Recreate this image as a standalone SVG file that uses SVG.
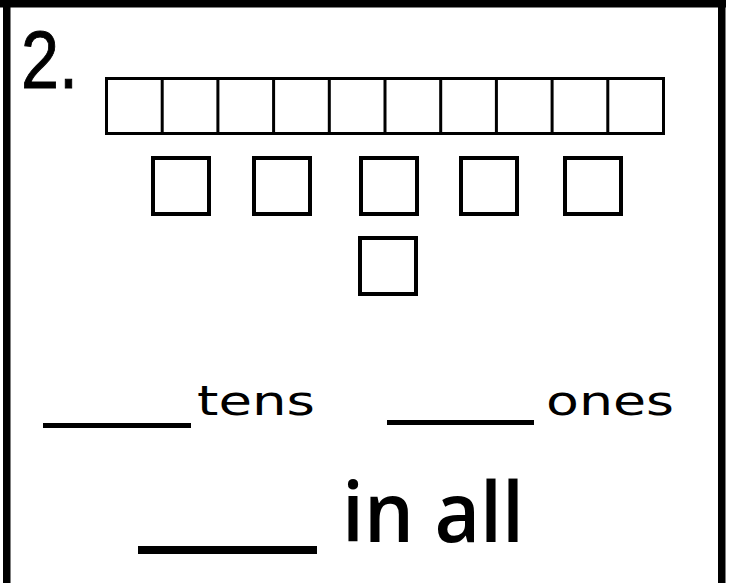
<svg xmlns="http://www.w3.org/2000/svg" width="733" height="583" viewBox="0 0 733 583">
<style>
.frame{fill:#000}
.cell{fill:#fff;stroke:#000;stroke-width:3}
.sq{fill:#fff;stroke:#000;stroke-width:4}
.blank{stroke:#000;stroke-linecap:butt}
.lbl{font-family:"DejaVu Sans","Liberation Sans",sans-serif;font-size:41px;fill:#000}
.num{font-family:"Liberation Sans","DejaVu Sans",sans-serif;font-size:82px;fill:#000;stroke:#000;stroke-width:1}
.big{font-family:"Open Sans","Liberation Sans",sans-serif;font-weight:600;font-size:84px;fill:#000}
</style>
<rect width="733" height="583" fill="#fff"/>
<g id="frame">
<rect class="frame" x="0" y="0" width="726" height="7.5"/>
<rect class="frame" x="3" y="0" width="7.5" height="583"/>
<rect class="frame" x="718" y="0" width="7.5" height="583"/>
</g>
<g id="number"><text class="num" x="21" y="88" textLength="57" lengthAdjust="spacingAndGlyphs">2.</text></g>
<g id="ten-rod">
<rect class="cell" x="106.5" y="78.5" width="557" height="55"/>
<path d="M162.2 78.5V133.5M217.9 78.5V133.5M273.6 78.5V133.5M329.3 78.5V133.5M385 78.5V133.5M440.7 78.5V133.5M496.4 78.5V133.5M552.1 78.5V133.5M607.8 78.5V133.5" stroke="#000" stroke-width="3" fill="none"/>
</g>
<g id="ones">
<rect class="sq" x="153" y="158" width="56" height="56"/>
<rect class="sq" x="254" y="158" width="56" height="56"/>
<rect class="sq" x="361" y="158" width="56" height="56"/>
<rect class="sq" x="461" y="158" width="56" height="56"/>
<rect class="sq" x="565" y="158" width="56" height="56"/>
<rect class="sq" x="360" y="238" width="56" height="56"/>
</g>
<g id="tens-line">
<line class="blank" x1="43" y1="425.5" x2="191" y2="425.5" stroke-width="5"/>
<text class="lbl" x="197" y="415" textLength="118" lengthAdjust="spacingAndGlyphs">tens</text>
</g>
<g id="ones-line">
<line class="blank" x1="387" y1="422.5" x2="534" y2="422.5" stroke-width="5"/>
<text class="lbl" x="546" y="415" textLength="128" lengthAdjust="spacingAndGlyphs">ones</text>
</g>
<g id="total-line">
<line class="blank" x1="138" y1="550" x2="317" y2="550" stroke-width="8"/>
<text class="big" x="342" y="542" textLength="182" lengthAdjust="spacingAndGlyphs">in all</text>
</g>
</svg>
